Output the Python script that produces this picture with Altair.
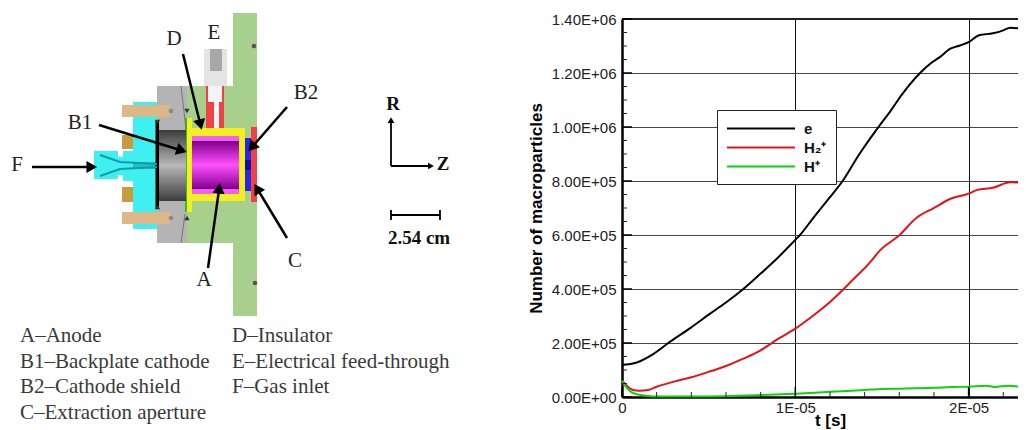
import math
import altair as alt
import pandas as pd

# ---------- chart data (t in microseconds) ----------
e_t = [0, 0.4, 0.85, 1.8, 2.8, 4, 5, 6, 7, 8, 8.9, 10, 10.27, 11, 12, 12.73, 13.7, 14.8, 15.5, 16.15, 17.2, 17.8, 18.3, 18.95, 19.5, 20, 20.6, 21.4, 22, 22.4, 22.85]
e_n = [118500, 121000, 128000, 159000, 206000, 258000, 305000, 350000, 400000, 457000, 510000, 582000, 600000, 660000, 740000, 800000, 900000, 1000000, 1060000, 1120000, 1200000, 1235000, 1257000, 1290000, 1302000, 1314000, 1340000, 1347000, 1358000, 1368000, 1366000]
h2_t = [0, 0.2, 0.4, 0.6, 1, 1.5, 2, 3, 4, 5, 6, 7, 8, 9, 10, 11, 12, 13.35, 14.3, 14.9, 15.95, 17, 17.96, 19, 20, 20.5, 21.4, 22.4, 22.85]
h2_n = [60000, 47000, 34000, 27000, 23000, 26000, 38000, 57000, 73000, 93000, 115000, 142000, 173000, 215000, 253000, 300000, 352000, 436000, 498000, 544000, 596000, 664000, 699000, 735000, 753000, 767000, 775000, 795000, 794000]
h_t = [0, 0.2, 0.5, 1, 1.5, 2, 4, 6, 8, 10, 12, 14, 15, 16, 18, 19, 20, 21, 21.5, 22.3, 22.85]
h_n = [60000, 40000, 20000, 8000, 4000, 2000, 1500, 3000, 7000, 12000, 19000, 26000, 30000, 31000, 34000, 37000, 38000, 42000, 37000, 42000, 39000]
series_names = ["e", "H₂⁺", "H⁺"]
series_labels = {"e": "e\u00a0", "H₂⁺": "H₂⁺\u00a0", "H⁺": "H⁺\u00a0"}
series_colors = ["#000000", "#e0141c", "#10d010"]
y_major = [0, 200000, 400000, 600000, 800000, 1000000, 1200000, 1400000]
y_labels = ["0.00E+00", "2.00E+05", "4.00E+05", "6.00E+05", "8.00E+05", "1.00E+06", "1.20E+06", "1.40E+06"]
y_minor = [50000 * i for i in range(1, 28) if i % 4]
x_major = [0, 10, 20]
x_labels = ["0", "1E-05", "2E-05"]
x_minor = [2, 4, 6, 8, 12, 14, 16, 18, 22]

# ---------- schematic parts (page pixels) ----------
GREEN, GRAY, CYAN, TAN, GOLD = "#a8d08d", "#b4b4b4", "#40f0f0", "#dcb888", "#c89b3c"
YEL, RED, BLUE = "#f4f020", "#f04048", "#2828e0"
back_parts = [
    (233, 14, 257, 317, GREEN), (187, 87, 233, 244, GREEN), (233, 87, 257, 244, GREEN),
    (157, 87, 187, 244, GRAY), (133, 103, 157, 230, CYAN), (123, 152, 133, 182, CYAN),
    (94, 152, 118, 180, CYAN), (114, 158, 133, 176, CYAN),
    (122, 106, 170, 118, TAN), (122, 213, 170, 225, TAN),
    (122, 136, 133, 150, GOLD), (122, 188, 133, 203, GOLD),
    (133, 163, 157, 170, "#20c0c8"), (155.5, 122, 159, 210, "#000000"),
    (204, 50, 227, 87, "#e4e4e4"), (210, 50, 222, 72, "#a8a8a8"),
    (206, 87, 224, 129, RED), (208, 87, 222, 103, "#f4f4f4"), (214, 103, 219, 133, "#f4f4f4"),
    (192, 129, 245, 202, YEL), (185, 119, 192, 213, YEL), (185, 119, 187, 213, "#30c030"),
    (192, 137, 239, 195, "#f060f0"),
    (245, 139, 252, 192, BLUE), (245, 161, 252, 171, "#1010a0"), (251, 128, 257, 203, RED),
]
parts_df = pd.DataFrame(back_parts, columns=["x1", "y1", "x2", "y2", "c"])
cyl_grey = pd.DataFrame({"x1": [159], "x2": [186], "y1": [131], "y2": [202]})
cyl_mag = pd.DataFrame({"x1": [192], "x2": [239], "y1": [142], "y2": [190]})
cone_a = [(100, 156), (120, 163), (157, 165)]
cone_b = [(100, 177), (120, 170), (157, 168)]
slant_a = [(181, 87), (186, 130)]
slant_b = [(185, 215), (181, 244)]

arrows = [(183, 55, 200, 124), (99, 126, 180, 151), (32, 168, 90, 168), (287, 108, 253, 147),
          (287, 239, 258, 191), (208, 269, 219, 191), (391, 167, 391, 122), (391, 167, 430, 167)]
arrow_w = [2.5, 2.5, 2.5, 2.5, 2.5, 2.5, 1.8, 1.8]
dots_x = [254, 255, 171, 171]
dots_y = [47, 284, 112, 219]
dots_c = ["#555555", "#555555", "#8a8a8a", "#8a8a8a"]
small_tri_x = [157.5, 157.5, 187, 187]
small_tri_y = [123, 208, 112, 219]
small_tri_s = ["triangle-down", "triangle-up", "triangle-down", "triangle-up"]
scale_bar = [(391, 216, 440, 216), (391, 211, 391, 221), (440, 211, 440, 221)]

callouts = ["D", "E", "B2", "B1", "F", "A", "C"]
callout_x = [174, 214, 306, 80, 17, 204, 295]
callout_y = [40, 34, 94, 124, 166, 281, 262]
bold_txt = ["R", "Z", "2.54 cm"]
bold_x = [393, 443, 419]
bold_y = [105, 165, 239]
cap_txt = ["A–Anode", "B1–Backplate cathode", "B2–Cathode shield", "C–Extraction aperture",
           "D–Insulator", "E–Electrical feed-through", "F–Gas inlet"]
cap_x = [20, 20, 20, 20, 232, 232, 232]
cap_y = [337, 363, 388, 414, 337, 363, 388]

# ---------- left panel ----------
PX = alt.Scale(domain=[8, 622], nice=False, zero=False)
PY = alt.Scale(domain=[20, 398], nice=False, zero=False, reverse=True)
X = alt.X("x1:Q", scale=PX, axis=None)
Y = alt.Y("y1:Q", scale=PY, axis=None)


def grad(stops):
    return alt.LinearGradient(gradient="linear", x1=0, x2=0, y1=0, y2=1,
                              stops=[alt.GradientStop(offset=o, color=c) for o, c in stops])


def rects(df, **mark):
    return alt.Chart(df).mark_rect(**mark).encode(X, Y, x2="x2:Q", y2="y2:Q")


parts = alt.Chart(parts_df).mark_rect().encode(X, Y, x2="x2:Q", y2="y2:Q", color=alt.Color("c:N", scale=None))
grey_cyl = rects(cyl_grey, color=grad([(0, "#3c3c3c"), (0.5, "#b8b8b8"), (1, "#3c3c3c")]))
mag_cyl = rects(cyl_mag, color=grad([(0, "#80008c"), (0.5, "#ff50ff"), (1, "#80008c")]))


def poly(paths, **mark):
    rows = [{"x1": p[0], "y1": p[1], "k": i, "o": j} for i, path in enumerate(paths) for j, p in enumerate(path)]
    return alt.Chart(pd.DataFrame(rows)).mark_line(**mark).encode(X, Y, detail="k:N", order="o:Q")


cones = poly([cone_a, cone_b], color="#149aa8", strokeWidth=2)
slants = poly([slant_a, slant_b], color="#666666", strokeWidth=0.8)
dots = alt.Chart(pd.DataFrame({"x1": dots_x, "y1": dots_y, "c": dots_c})).mark_circle(size=22, opacity=1).encode(
    X, Y, color=alt.Color("c:N", scale=None))
tris = alt.Chart(pd.DataFrame({"x1": small_tri_x, "y1": small_tri_y, "s": small_tri_s})).mark_point(
    filled=True, size=28, color="#333333", opacity=1).encode(X, Y, shape=alt.Shape("s:N", scale=None))

ar_rows = []
for i, (a, b, c, d) in enumerate(arrows):
    ar_rows.append({"x1": a, "y1": b, "k": i, "o": 0, "w": arrow_w[i]})
    ar_rows.append({"x1": c, "y1": d, "k": i, "o": 1, "w": arrow_w[i]})
ar_lines = alt.Chart(pd.DataFrame(ar_rows)).mark_line(color="black").encode(
    X, Y, detail="k:N", order="o:Q", strokeWidth=alt.StrokeWidth("w:Q", scale=None))
heads = pd.DataFrame({
    "x1": [r[2] for r in arrows], "y1": [r[3] for r in arrows],
    "a": [math.degrees(math.atan2(r[2] - r[0], r[1] - r[3])) % 360 for r in arrows],
    "s": [150 if w > 2 else 45 for w in arrow_w]})
ar_heads = alt.Chart(heads).mark_point(shape="triangle", filled=True, color="black", opacity=1).encode(
    X, Y, angle=alt.Angle("a:Q", scale=None), size=alt.Size("s:Q", scale=None))
bar = poly([[(a, b), (c, d)] for a, b, c, d in scale_bar], color="black", strokeWidth=1.8)


def texts(t, x, y, **mark):
    return alt.Chart(pd.DataFrame({"t": t, "x1": x, "y1": y})).mark_text(**mark).encode(X, Y, text="t:N")


t_call = texts(callouts, callout_x, callout_y, font="Liberation Serif", fontSize=21, color="#222222", baseline="middle")
t_bold = texts(bold_txt, bold_x, bold_y, font="Liberation Serif", fontSize=19, fontWeight="bold", color="#111111", baseline="middle")
t_cap = texts(cap_txt, cap_x, cap_y, font="Liberation Serif", fontSize=21, color="#3a3a3a", align="left", baseline="middle")

left = alt.layer(parts, grey_cyl, mag_cyl, cones, slants, dots, tris, ar_lines, ar_heads, bar, t_call, t_bold, t_cap).properties(width=614, height=378)

# ---------- right panel ----------
rows = []
for nm, ts, ns in zip(series_names, [e_t, h2_t, h_t], [e_n, h2_n, h_n]):
    rows += [{"t": t, "n": n, "s": series_labels[nm]} for t, n in zip(ts, ns)]
df = pd.DataFrame(rows)
XS = alt.Scale(domain=[0, 22.85], nice=False, zero=False)
YS = alt.Scale(domain=[0, 1400000], nice=False)


def label_expr(vals, labs):
    return " : ".join(f"datum.value == {v} ? '{l}'" for v, l in zip(vals, labs)) + " : ''"


x_ax = alt.Axis(values=x_major, labelExpr=label_expr(x_major, x_labels), ticks=False, domainWidth=2.5, domainColor="black",
                grid=True, gridColor="#111111", gridWidth=1, labelFont="Liberation Sans", labelFontSize=15, labelColor="#222222",
                labelPadding=3, title="t [s]", titleFont="Liberation Sans", titleFontSize=17, titleFontWeight="bold",
                titleY=28, titleX=208, titleBaseline="alphabetic", labelOverlap=False, labelFlush=False)
y_ax = alt.Axis(values=y_major, labelExpr=label_expr(y_major, y_labels), ticks=False, domainWidth=2.5, domainColor="black",
                grid=True, gridColor="#444444", gridWidth=1, labelFont="Liberation Sans", labelFontSize=15, labelColor="#222222",
                labelPadding=6, title="Number of macroparticles", titleFont="Liberation Sans", titleFontSize=17, titleFontWeight="bold",
                titlePadding=6, labelOverlap=False, labelFlush=False)

lines = alt.Chart(df).mark_line(strokeWidth=2, interpolate="monotone").encode(
    x=alt.X("t:Q", scale=XS, axis=x_ax),
    y=alt.Y("n:Q", scale=YS, axis=y_ax),
    color=alt.Color("s:N", scale=alt.Scale(domain=[series_labels[s] for s in series_names], range=series_colors), legend=alt.Legend(
        title=None, orient="none", legendX=709, legendY=91, fillColor="white", strokeColor="#222222", padding=9,
        symbolType="M-1,0H7", symbolSize=289, symbolStrokeWidth=2, labelOffset=59,
        labelFont="Liberation Sans", labelFontSize=15, labelFontWeight="bold", labelColor="#111111", rowPadding=1)),
    order=alt.Order("t:Q"),
)
top_rule = alt.Chart(pd.DataFrame({"n": [1400000]})).mark_rule(color="#222222", strokeWidth=2).encode(
    y=alt.Y("n:Q", scale=YS, axis=y_ax), x=alt.value(0), x2=alt.value(396))
maj_y = alt.Chart(pd.DataFrame({"n": y_major})).mark_rule(color="black", strokeWidth=1.5).encode(
    y=alt.Y("n:Q", scale=YS, axis=y_ax), x=alt.value(0), x2=alt.value(10))
min_y = alt.Chart(pd.DataFrame({"n": y_minor})).mark_rule(color="#222222", strokeWidth=1).encode(
    y=alt.Y("n:Q", scale=YS, axis=y_ax), x=alt.value(0), x2=alt.value(5))
maj_x = alt.Chart(pd.DataFrame({"t": x_major})).mark_rule(color="black", strokeWidth=1.5).encode(
    x=alt.X("t:Q", scale=XS, axis=x_ax), y=alt.value(378), y2=alt.value(368))
min_x = alt.Chart(pd.DataFrame({"t": x_minor})).mark_rule(color="#222222", strokeWidth=1).encode(
    x=alt.X("t:Q", scale=XS, axis=x_ax), y=alt.value(378), y2=alt.value(373))

right = alt.layer(lines, top_rule, maj_y, min_y, maj_x, min_x).properties(width=396, height=378)

chart = alt.hconcat(left, right).properties(spacing=0, bounds="flush", padding={"left": -1, "top": 3, "right": -5, "bottom": 0}).configure_view(stroke="transparent")
chart.save("out.html", embed_options={"renderer": "svg", "actions": False})
